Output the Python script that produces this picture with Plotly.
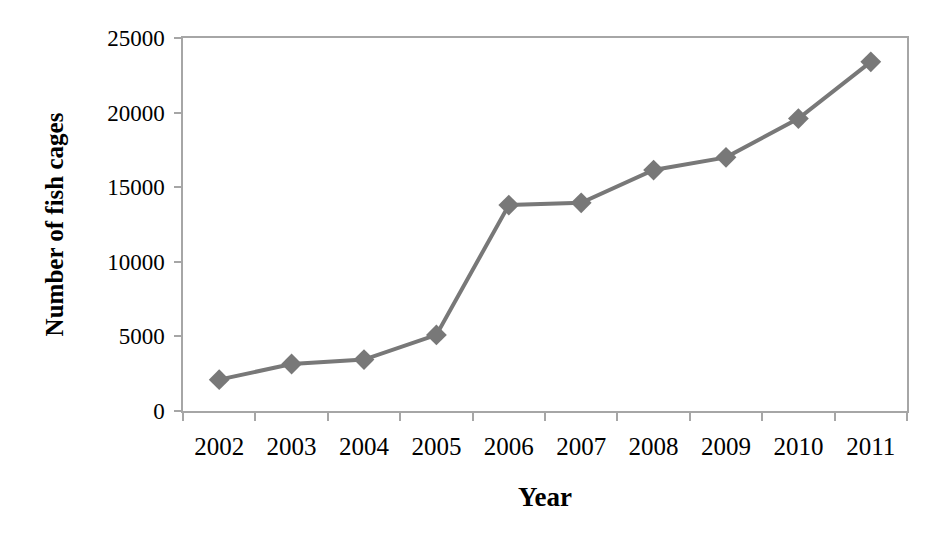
import plotly.graph_objects as go

years = ["2002", "2003", "2004", "2005", "2006", "2007", "2008", "2009", "2010", "2011"]
cages = [2100, 3150, 3450, 5100, 13800, 13950, 16150, 17000, 19600, 23400]
y_ticks = [0, 5000, 10000, 15000, 20000, 25000]

font_family = "Liberation Serif, Times New Roman, serif"
axis_color = "#a6a6a6"
line_color = "#787878"

fig = go.Figure()
fig.add_trace(go.Scatter(
    x=years, y=cages, mode="lines+markers",
    line=dict(color=line_color, width=4),
    marker=dict(symbol="diamond", size=16, color=line_color),
    showlegend=False,
))

fig.update_layout(
    width=952, height=537,
    margin=dict(l=183, r=45, t=38, b=126),
    plot_bgcolor="white", paper_bgcolor="white",
    font=dict(family=font_family, color="black", size=22),
)
fig.update_xaxes(
    type="category",
    range=[-0.5, len(years) - 0.5],
    tickson="boundaries",
    ticks="outside", ticklen=8, tickcolor=axis_color, tickwidth=1.5,
    showline=True, linecolor=axis_color, linewidth=1.5, mirror=True,
    showgrid=False,
    ticklabelstandoff=12,
    tickfont=dict(size=25, family=font_family),
    title=dict(text="<b>Year</b>", font=dict(size=27, family=font_family), standoff=28),
)
fig.update_yaxes(
    range=[0, 25000],
    tickvals=y_ticks,
    ticktext=[str(v) for v in y_ticks],
    ticks="outside", ticklen=7, tickcolor=axis_color, tickwidth=1.5,
    showline=True, linecolor=axis_color, linewidth=1.5, mirror=True,
    showgrid=False, zeroline=False,
    ticklabelstandoff=5,
    tickfont=dict(size=23, family=font_family),
    title=dict(text="<b>Number of fish cages</b>", font=dict(size=25, family=font_family), standoff=36),
)

fig.write_html("out.html")
